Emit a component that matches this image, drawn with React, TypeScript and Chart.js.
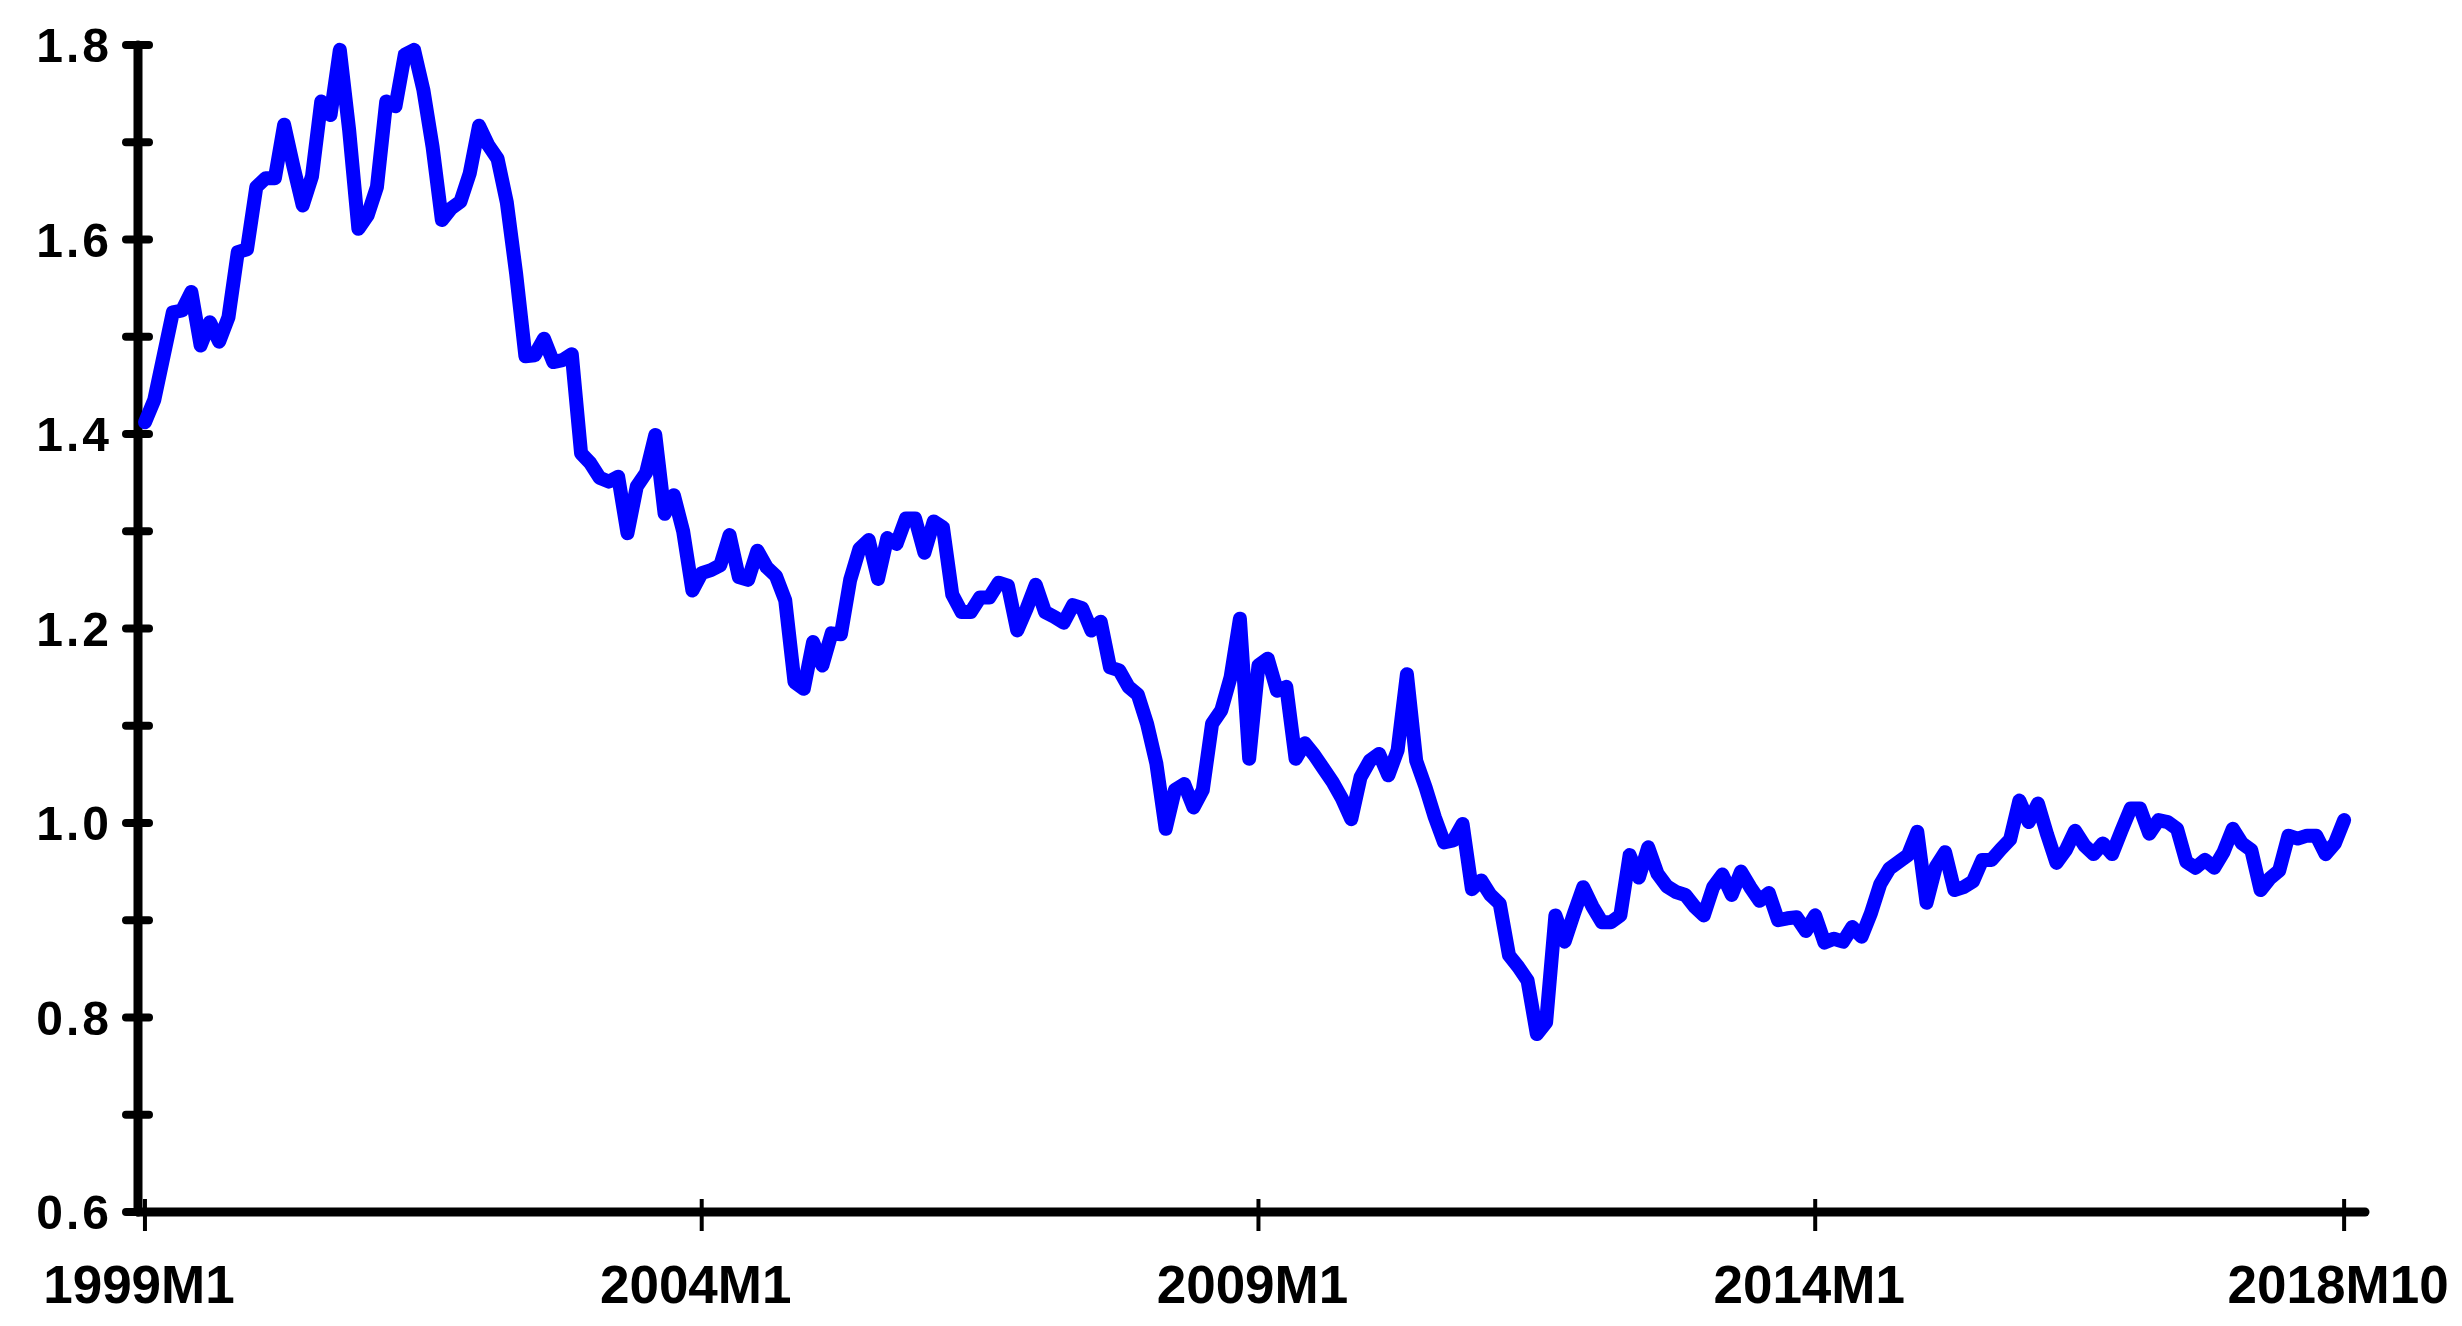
import { useEffect, useRef } from "react";
import { Chart, registerables } from "chart.js";

Chart.register(...registerables);

// Monthly values, 1999M1 .. 2018M10
const y1999 = [1.412, 1.435, 1.48, 1.525, 1.527, 1.546, 1.491, 1.515, 1.495, 1.52, 1.587, 1.59];
const y2000 = [1.654, 1.663, 1.663, 1.718, 1.675, 1.635, 1.665, 1.742, 1.728, 1.795, 1.713, 1.611];
const y2001 = [1.625, 1.654, 1.742, 1.737, 1.79, 1.795, 1.754, 1.695, 1.62, 1.632, 1.639, 1.668];
const y2002 = [1.717, 1.697, 1.683, 1.638, 1.565, 1.48, 1.481, 1.498, 1.474, 1.476, 1.482, 1.38];
const y2003 = [1.37, 1.355, 1.351, 1.356, 1.298, 1.346, 1.36, 1.399, 1.318, 1.337, 1.3, 1.239];
const y2004 = [1.257, 1.26, 1.265, 1.296, 1.253, 1.25, 1.28, 1.263, 1.254, 1.229, 1.145, 1.138];
const y2005 = [1.186, 1.162, 1.195, 1.194, 1.25, 1.282, 1.291, 1.251, 1.293, 1.287, 1.313, 1.313];
const y2006 = [1.278, 1.31, 1.304, 1.235, 1.217, 1.217, 1.232, 1.232, 1.247, 1.244, 1.198, 1.22];
const y2007 = [1.245, 1.217, 1.212, 1.206, 1.224, 1.221, 1.198, 1.207, 1.16, 1.157, 1.14, 1.132];
const y2008 = [1.102, 1.061, 0.994, 1.034, 1.04, 1.016, 1.034, 1.102, 1.116, 1.15, 1.21, 1.066];
const y2009 = [1.162, 1.169, 1.136, 1.14, 1.066, 1.082, 1.07, 1.056, 1.042, 1.025, 1.004, 1.047];
const y2010 = [1.064, 1.071, 1.049, 1.075, 1.153, 1.064, 1.037, 1.006, 0.98, 0.982, 0.999, 0.932];
const y2011 = [0.941, 0.926, 0.917, 0.864, 0.852, 0.838, 0.783, 0.795, 0.905, 0.878, 0.907, 0.934];
const y2012 = [0.914, 0.898, 0.898, 0.905, 0.967, 0.944, 0.975, 0.948, 0.935, 0.929, 0.926, 0.914];
const y2013 = [0.905, 0.934, 0.947, 0.926, 0.95, 0.934, 0.92, 0.928, 0.9, 0.902, 0.903, 0.889];
const y2014 = [0.905, 0.877, 0.881, 0.878, 0.893, 0.883, 0.907, 0.937, 0.953, 0.96, 0.967, 0.991];
const y2015 = [0.918, 0.955, 0.97, 0.931, 0.934, 0.94, 0.962, 0.962, 0.973, 0.983, 1.023, 1.001];
const y2016 = [1.02, 0.988, 0.959, 0.972, 0.992, 0.977, 0.968, 0.979, 0.968, 0.992, 1.015, 1.015];
const y2017 = [0.989, 1.003, 1.001, 0.994, 0.96, 0.954, 0.962, 0.954, 0.97, 0.994, 0.979, 0.972];
const y2018 = [0.931, 0.943, 0.951, 0.987, 0.984, 0.987, 0.987, 0.968, 0.979, 1.003];

const values = [
  ...y1999, ...y2000, ...y2001, ...y2002, ...y2003, ...y2004, ...y2005,
  ...y2006, ...y2007, ...y2008, ...y2009, ...y2010, ...y2011, ...y2012,
  ...y2013, ...y2014, ...y2015, ...y2016, ...y2017, ...y2018,
];

// x tick positions (month index from 1999M1) and their labels
const tickMonths = [0, 60, 120, 180, 237];
const tickLabels = ["1999M1", "2004M1", "2009M1", "2014M1", "2018M10"];

const FONT = '"Liberation Sans", Arial, sans-serif';

const axesPlugin = {
  id: "customAxes",
  beforeDraw(chart: any) {
    const ys = chart.scales.y;
    if (ys && !ys._lsPatched) {
      const orig = ys.drawLabels;
      ys.drawLabels = function (area: any) {
        const c = this.ctx;
        c.save();
        c.letterSpacing = "3px";
        orig.call(this, area);
        c.restore();
      };
      ys._lsPatched = true;
    }
  },
  beforeDatasetsDraw(chart: any) {
    const { ctx } = chart;
    const x = chart.scales.x;
    const y = chart.scales.y;
    const x0 = x.getPixelForValue(x.min);
    const x1 = x.getPixelForValue(x.max);
    const yTop = y.getPixelForValue(y.max);
    const yBot = y.getPixelForValue(y.min);
    ctx.save();
    ctx.strokeStyle = "#000";
    ctx.lineCap = "round";
    ctx.lineWidth = 9;
    ctx.beginPath();
    ctx.moveTo(x0, yTop);
    ctx.lineTo(x0, yBot);
    ctx.stroke();
    ctx.beginPath();
    ctx.moveTo(x0, yBot);
    ctx.lineTo(x1, yBot);
    ctx.stroke();
    ctx.lineWidth = 8;
    y.ticks.forEach((t: any) => {
      const py = y.getPixelForValue(t.value);
      ctx.beginPath();
      ctx.moveTo(x0 - 12, py);
      ctx.lineTo(x0 + 11, py);
      ctx.stroke();
    });
    ctx.lineWidth = 4;
    ctx.lineCap = "butt";
    x.ticks.forEach((t: any) => {
      const px = x.getPixelForValue(t.value);
      ctx.beginPath();
      ctx.moveTo(px, yBot - 13);
      ctx.lineTo(px, yBot + 19);
      ctx.stroke();
    });
    ctx.restore();
  },
};

export default function App() {
  const ref = useRef<HTMLCanvasElement>(null);
  useEffect(() => {
    const chart = new Chart(ref.current as HTMLCanvasElement, {
      type: "line",
      data: {
        datasets: [
          {
            data: values.map((v, i) => ({ x: i, y: v })),
            borderColor: "#0000ff",
            borderWidth: 14,
            pointRadius: 0,
            tension: 0,
            borderJoinStyle: "round",
            borderCapStyle: "round",
            clip: false as any,
          },
        ],
      },
      options: {
        responsive: false,
        animation: false,
        layout: { padding: { top: 45, right: 97, bottom: 0, left: 0 } },
        plugins: { legend: { display: false }, tooltip: { enabled: false } },
        scales: {
          x: {
            type: "linear",
            min: -0.75,
            max: 239.25,
            grid: { display: false, drawTicks: false },
            border: { display: false },
            afterBuildTicks: (s: any) => {
              s.ticks = tickMonths.map((v) => ({ value: v }));
            },
            afterFit: (s: any) => {
              s.height = 114;
              s.paddingLeft = 0;
              s.paddingRight = 0;
              s.paddingTop = 0;
              s.paddingBottom = 0;
            },
            ticks: {
              autoSkip: false,
              maxRotation: 0,
              minRotation: 0,
              padding: 45,
              labelOffset: -6,
              color: "#000",
              font: { family: FONT, weight: "bold", size: 53 },
              callback: (_v: any, i: number) => tickLabels[i] ?? "",
            },
          },
          y: {
            type: "linear",
            min: 0.6,
            max: 1.8,
            grid: { display: false, drawTicks: false },
            border: { display: false },
            afterFit: (s: any) => {
              s.width = 138;
              s.paddingLeft = 0;
              s.paddingRight = 0;
              s.paddingTop = 0;
              s.paddingBottom = 0;
            },
            ticks: {
              stepSize: 0.1,
              padding: 26,
              labelOffset: 4,
              color: "#000",
              font: { family: FONT, weight: "bold", size: 48 },
              callback: (v: any) => {
                const n = Number(v);
                return Math.round(n * 10) % 2 === 0 ? n.toFixed(1) : "";
              },
            },
          },
        },
      },
      plugins: [axesPlugin],
    });
    return () => chart.destroy();
  }, []);
  return (
    <div style={{ position: "absolute", left: 0, top: 0, width: 2462, height: 1326, background: "#fff" }}>
      <canvas ref={ref} width={2462} height={1326} style={{ display: "block" }} />
    </div>
  );
}
